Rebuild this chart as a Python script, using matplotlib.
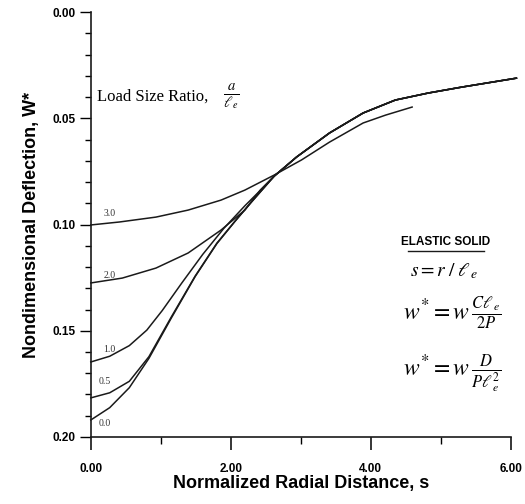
import numpy as np
import matplotlib
matplotlib.use("Agg")
import matplotlib.pyplot as plt
from matplotlib.ticker import MultipleLocator, FormatStrFormatter

plt.rcParams['mathtext.fontset'] = 'stix'

# curves (s, w*) for each load size ratio a/le
s_00 = [0.0, 0.27, 0.55, 0.83, 1.15, 1.49, 1.80, 2.06, 2.28, 2.62, 2.94, 3.41, 3.89, 4.35, 4.82, 5.30, 6.08]
w_00 = [0.1920, 0.1862, 0.1768, 0.1630, 0.1440, 0.1245, 0.1090, 0.0985, 0.0900, 0.0772, 0.0682, 0.0569, 0.0475, 0.0414, 0.0381, 0.0353, 0.0311]

s_05 = [0.0, 0.27, 0.55, 0.83, 1.15, 1.49, 1.80, 2.06, 2.28, 2.62, 2.94, 3.41, 3.89, 4.35, 4.82, 5.30, 6.08]
w_05 = [0.1816, 0.1792, 0.1738, 0.1622, 0.1435, 0.1243, 0.1088, 0.0984, 0.0899, 0.0772, 0.0682, 0.0569, 0.0475, 0.0414, 0.0381, 0.0353, 0.0311]

s_10 = [0.0, 0.27, 0.55, 0.80, 1.02, 1.30, 1.60, 1.90, 2.20, 2.45, 2.62, 2.94, 3.41, 3.89, 4.35, 4.82, 5.30, 6.08]
w_10 = [0.1647, 0.1620, 0.1570, 0.1497, 0.1405, 0.1275, 0.1140, 0.1018, 0.0912, 0.0830, 0.0772, 0.0682, 0.0569, 0.0475, 0.0414, 0.0381, 0.0353, 0.0311]

s_20 = [0.0, 0.45, 0.93, 1.39, 1.86, 2.20, 2.42, 2.62, 2.94, 3.41, 3.89, 4.35, 4.82, 5.30, 6.08]
w_20 = [0.1275, 0.1252, 0.1205, 0.1134, 0.1026, 0.0932, 0.0838, 0.0772, 0.0682, 0.0569, 0.0475, 0.0414, 0.0381, 0.0353, 0.0311]

s_30 = [0.0, 0.41, 0.93, 1.39, 1.86, 2.20, 2.62, 3.01, 3.41, 3.89, 4.21, 4.59]
w_30 = [0.1002, 0.0988, 0.0965, 0.0932, 0.0885, 0.0838, 0.0767, 0.0696, 0.0612, 0.0522, 0.0485, 0.0447]

curve_labels = ['0.0', '0.5', '1.0', '2.0', '3.0']
label_s = [0.20, 0.20, 0.27, 0.27, 0.27]
label_w = [0.1960, 0.1760, 0.1610, 0.1260, 0.0970]

fig = plt.figure(figsize=(5.25, 5.04), dpi=100)
ax = fig.add_axes([0.173, 0.133, 0.800, 0.843])

ink = '#1a1a1a'
for s, w in [(s_00, w_00), (s_05, w_05), (s_10, w_10), (s_20, w_20), (s_30, w_30)]:
    ax.plot(s, w, color=ink, lw=1.1, clip_on=False)

for lab, x, y in zip(curve_labels, label_s, label_w):
    ax.text(x, y, lab, fontsize=7, family='Liberation Serif', color='#333333',
            ha='center', va='bottom')

ax.set_xlim(0, 6)
ax.set_ylim(0.20, 0.0)
ax.xaxis.set_major_locator(MultipleLocator(2))
ax.xaxis.set_minor_locator(MultipleLocator(1))
ax.yaxis.set_major_locator(MultipleLocator(0.05))
ax.yaxis.set_minor_locator(MultipleLocator(0.01))
ax.xaxis.set_major_formatter(FormatStrFormatter('%.2f'))
ax.yaxis.set_major_formatter(FormatStrFormatter('%.2f'))

for sp in ['top', 'right']:
    ax.spines[sp].set_visible(False)
for sp in ['left', 'bottom']:
    ax.spines[sp].set_linewidth(1.2)
    ax.spines[sp].set_color(ink)

ax.tick_params(axis='x', which='major', direction='out', length=9, width=1.1, pad=10)
ax.tick_params(axis='x', which='minor', direction='out', length=5, width=1.0)
ax.tick_params(axis='y', which='major', direction='out', length=8, width=1.0, pad=3)
ax.tick_params(axis='y', which='minor', direction='out', length=4, width=1.0)
for t in ax.get_xticklabels() + ax.get_yticklabels():
    t.set_fontfamily('Liberation Sans')
    t.set_fontweight('bold')
    t.set_fontsize(8.5)

ax.set_xlabel('Normalized Radial Distance, s', fontsize=13, fontweight='bold',
              family='Liberation Sans', labelpad=0)
ax.set_ylabel('Nondimensional Deflection, W*', fontsize=13, fontweight='bold',
              family='Liberation Sans', labelpad=9)

ax.text(0.014, 0.80, 'Load Size Ratio,', transform=ax.transAxes, fontsize=12,
        family='Liberation Serif', va='center', ha='left')
ax.text(0.335, 0.80, r'$\frac{a}{\ell_{\,e}}$', transform=ax.transAxes, fontsize=15,
        va='center', ha='center')

ax.text(0.845, 0.458, 'ELASTIC SOLID', transform=ax.transAxes, fontsize=8.5,
        fontweight='bold', family='Liberation Sans', ha='center', va='center')
ax.plot([0.755, 0.935], [0.438, 0.438], transform=ax.transAxes, color=ink,
        lw=1.0, clip_on=False)
ax.text(0.84, 0.390, r'$s=r\;/\;\ell_{\,e}$', transform=ax.transAxes, fontsize=14,
        ha='center', va='center')
ax.text(0.86, 0.292, r'$w^{*}=w\,\frac{C\ell_{\,e}}{2P}$', transform=ax.transAxes,
        fontsize=17, ha='center', va='center')
ax.text(0.86, 0.150, r'$w^{*}=w\,\frac{D}{P\ell_{\,e}^{2}}$', transform=ax.transAxes,
        fontsize=17, ha='center', va='center')

fig.savefig('out.png', dpi=100)
